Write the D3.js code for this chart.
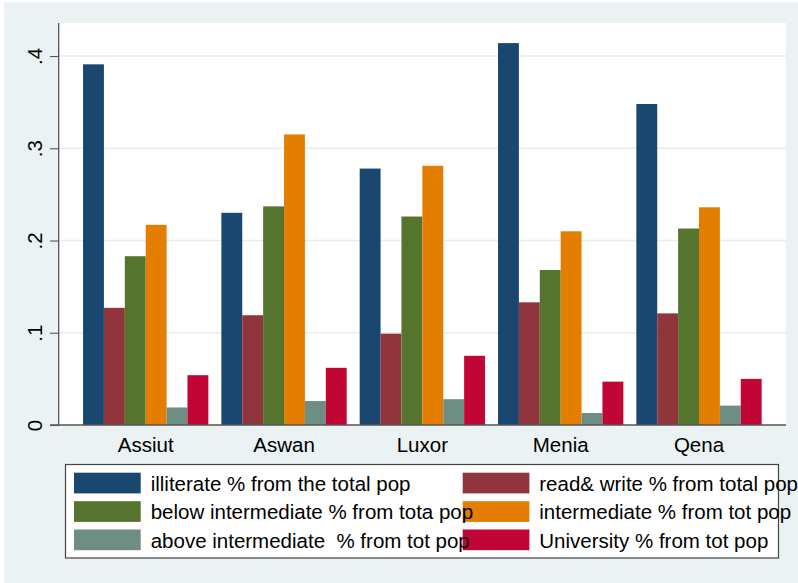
<!DOCTYPE html>
<html lang="en">
<head>
<meta charset="utf-8">
<title>Education by governorate</title>
<script src="https://d3js.org/d3.v7.min.js"></script>
<style>
  body { margin: 0; background: #fff; }
  svg text { font-family: "Liberation Sans", Arial, sans-serif; fill: #000; }
  .legend text { font-size: 20.5px; }
</style>
</head>
<body>
<svg width="798" height="583"></svg>
<script>
  // data
  var regions = ["Assiut", "Aswan", "Luxor", "Menia", "Qena"];
  var seriesNames = [
    "illiterate % from the total pop",
    "read& write % from total pop",
    "below intermediate % from tota pop",
    "intermediate % from tot pop",
    "above intermediate  % from tot pop",
    "University % from tot pop"
  ];
  var illiterate   = [0.391, 0.230, 0.278, 0.414, 0.348];
  var readWrite    = [0.127, 0.119, 0.099, 0.133, 0.121];
  var belowInter   = [0.183, 0.237, 0.226, 0.168, 0.213];
  var intermediate = [0.217, 0.315, 0.281, 0.210, 0.236];
  var aboveInter   = [0.019, 0.026, 0.028, 0.013, 0.021];
  var university   = [0.054, 0.062, 0.075, 0.047, 0.050];
  var yTicks = [0, 0.1, 0.2, 0.3, 0.4];
  var yTickLabels = ["0", ".1", ".2", ".3", ".4"];
  var colors = ["#1a476f", "#90353b", "#55752f", "#e37e00", "#6e8e84", "#c10534"];

  var allSeries = [illiterate, readWrite, belowInter, intermediate, aboveInter, university];

  var svg = d3.select("svg");

  // stata-ish background
  svg.append("rect")
    .attr("x", 4).attr("y", 2)
    .attr("width", 794).attr("height", 581)
    .attr("fill", "#eaf2f3");

  var plotLeft = 58.7, plotRight = 786, plotTop = 23, plotBottom = 425;

  svg.append("rect")
    .attr("x", plotLeft).attr("y", plotTop)
    .attr("width", plotRight - plotLeft).attr("height", plotBottom - plotTop)
    .attr("fill", "#fff");

  var y = d3.scaleLinear()
    .domain([0, 0.4358])
    .range([plotBottom, plotTop]);

  var x0 = d3.scaleBand()
    .domain(regions)
    .range([plotLeft, plotRight])
    .paddingInner(0.094)
    .paddingOuter(0.176);

  var x1 = d3.scaleBand()
    .domain(d3.range(allSeries.length))
    .range([0, x0.bandwidth()]);

  // gridlines
  svg.append("g")
    .selectAll("line")
    .data(yTicks.slice(1))
    .enter().append("line")
    .attr("x1", plotLeft).attr("x2", plotRight)
    .attr("y1", function(d) { return y(d); })
    .attr("y2", function(d) { return y(d); })
    .attr("stroke", "#e4eef0")
    .attr("stroke-width", 1.6);

  // bars
  var groups = svg.append("g")
    .selectAll("g")
    .data(regions)
    .enter().append("g")
    .attr("transform", function(d) { return "translate(" + x0(d) + ",0)"; });

  groups.selectAll("rect")
    .data(function(d, i) {
      return allSeries.map(function(s, k) { return {k: k, v: s[i]}; });
    })
    .enter().append("rect")
    .attr("x", function(d) { return x1(d.k); })
    .attr("width", x1.bandwidth())
    .attr("y", function(d) { return y(d.v); })
    .attr("height", function(d) { return plotBottom - y(d.v); })
    .attr("fill", function(d) { return colors[d.k]; });

  // y axis
  var yAxis = d3.axisLeft(y)
    .tickValues(yTicks)
    .tickSize(8.7)
    .tickFormat(function(d, i) { return yTickLabels[i]; });

  var gy = svg.append("g")
    .attr("transform", "translate(" + plotLeft + ",0)")
    .call(yAxis);
  gy.select(".domain")
    .attr("d", "M0," + plotTop + "V" + plotBottom)
    .attr("stroke", "#555")
    .attr("stroke-width", 1.3);
  gy.selectAll(".tick line").attr("stroke", "#555").attr("stroke-width", 1.1);
  gy.selectAll(".tick text")
    .attr("x", null).attr("dy", null)
    .attr("transform", "translate(-16.5,0) rotate(-90)")
    .attr("text-anchor", "middle")
    .attr("font-size", "20.5px")
    .attr("font-family", "Liberation Sans, Arial, sans-serif")
    .attr("fill", "#000");

  // x axis line
  svg.append("line")
    .attr("x1", 50).attr("x2", plotRight)
    .attr("y1", plotBottom).attr("y2", plotBottom)
    .attr("stroke", "#555")
    .attr("stroke-width", 1.3);

  svg.append("g")
    .selectAll("text")
    .data(regions)
    .enter().append("text")
    .attr("x", function(d) { return x0(d) + x0.bandwidth() / 2; })
    .attr("y", 452)
    .attr("text-anchor", "middle")
    .attr("font-size", "20.5px")
    .text(function(d) { return d; });

  // legend
  var legend = svg.append("g").attr("class", "legend");
  legend.append("rect")
    .attr("x", 65.5).attr("y", 464.5)
    .attr("width", 713).attr("height", 93.5)
    .attr("fill", "#fff")
    .attr("stroke", "#444")
    .attr("stroke-width", 1.2);

  var colSwatch = [74, 462.7], colText = [150.7, 539.3];
  var rowTop = [472.7, 501.2, 529.5];

  // swatches first so the long labels sit on top of them, like the original
  legend.append("g")
    .selectAll("rect")
    .data(seriesNames)
    .enter().append("rect")
    .attr("x", function(d, i) { return colSwatch[i % 2]; })
    .attr("y", function(d, i) { return rowTop[Math.floor(i / 2)]; })
    .attr("width", 66.7)
    .attr("height", 20.7)
    .attr("fill", function(d, i) { return colors[i]; });

  legend.append("g")
    .selectAll("text")
    .data(seriesNames)
    .enter().append("text")
    .attr("x", function(d, i) { return colText[i % 2]; })
    .attr("y", function(d, i) { return rowTop[Math.floor(i / 2)] + 18.2; })
    .attr("xml:space", "preserve")
    .style("white-space", "pre")
    .text(function(d) { return d; });
</script>
</body>
</html>
